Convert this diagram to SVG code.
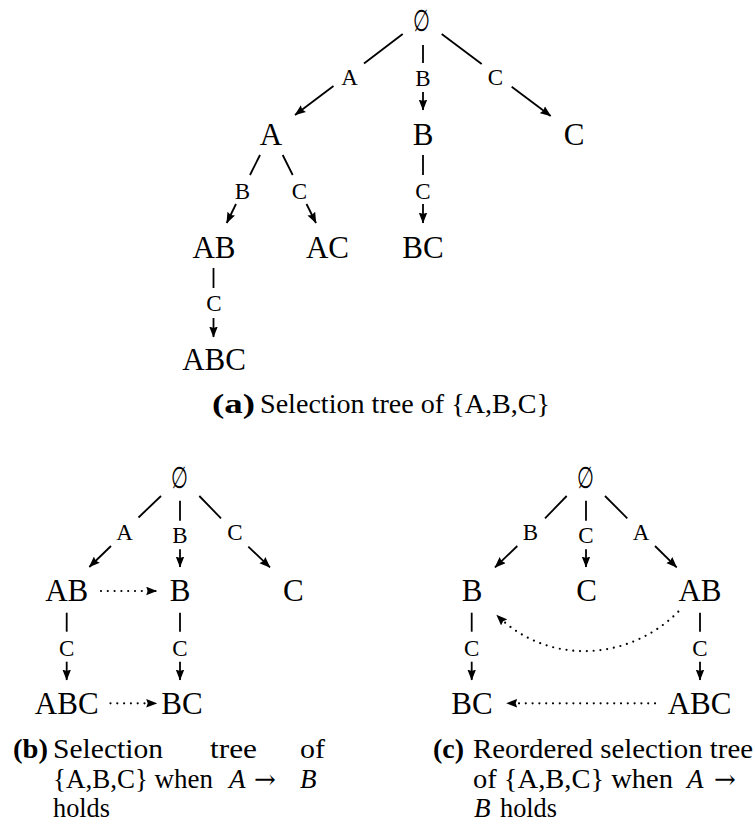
<svg xmlns="http://www.w3.org/2000/svg" width="755" height="828" viewBox="0 0 755 828">
<style>
text{font-family:"Liberation Serif","DejaVu Serif",serif;fill:#000}
.n{font-size:31px;text-anchor:middle}
.l{font-size:23px;text-anchor:middle}
.c{font-size:27px}
.b{font-weight:bold}
.i{font-style:italic}
.ar{font-family:"DejaVu Serif",serif;font-size:26px}
.es{font-family:"DejaVu Serif",serif;font-size:29px;text-anchor:middle}
.e{stroke:#000;stroke-width:1.8;fill:none}
.d{stroke:#000;stroke-width:2.2;fill:none;stroke-dasharray:0 6.8;stroke-linecap:round}
</style>
<defs>
<marker id="ah" viewBox="0 0 11 9" refX="10.5" refY="4.5" markerWidth="11" markerHeight="9" markerUnits="userSpaceOnUse" orient="auto">
<path d="M0,0.2 L11,4.5 L0,8.8 L1.5,4.5 z" fill="#000"/>
</marker>
</defs>

<g id="connectors">
<!-- (a) -->
<line class="e" x1="402.7" y1="34" x2="364" y2="63.5"/>
<line class="e" x1="333.5" y1="86" x2="295" y2="115" marker-end="url(#ah)"/>
<line class="e" x1="423" y1="45" x2="423" y2="63"/>
<line class="e" x1="423" y1="92" x2="423" y2="110" marker-end="url(#ah)"/>
<line class="e" x1="441.7" y1="34" x2="481.7" y2="64"/>
<line class="e" x1="511.7" y1="86.7" x2="550.7" y2="116" marker-end="url(#ah)"/>
<line class="e" x1="260" y1="155" x2="250" y2="175"/>
<line class="e" x1="236" y1="204" x2="226.7" y2="223" marker-end="url(#ah)"/>
<line class="e" x1="282.7" y1="155" x2="292.7" y2="175"/>
<line class="e" x1="306.5" y1="204" x2="316" y2="223" marker-end="url(#ah)"/>
<line class="e" x1="423" y1="155" x2="423" y2="175"/>
<line class="e" x1="423" y1="204" x2="423" y2="223" marker-end="url(#ah)"/>
<line class="e" x1="213.5" y1="268" x2="213.5" y2="288"/>
<line class="e" x1="213.5" y1="318" x2="213.5" y2="337" marker-end="url(#ah)"/>
<!-- (b) -->
<line class="e" x1="161" y1="496" x2="138.5" y2="517.5"/>
<line class="e" x1="111" y1="546" x2="89.3" y2="567" marker-end="url(#ah)"/>
<line class="e" x1="180" y1="500.7" x2="180" y2="520.7"/>
<line class="e" x1="180" y1="549.3" x2="180" y2="567" marker-end="url(#ah)"/>
<line class="e" x1="199.3" y1="496" x2="221" y2="518.3"/>
<line class="e" x1="248.3" y1="546.7" x2="270" y2="567.3" marker-end="url(#ah)"/>
<line class="e" x1="66.7" y1="612.7" x2="66.7" y2="631.7"/>
<line class="e" x1="66.7" y1="661.7" x2="66.7" y2="680" marker-end="url(#ah)"/>
<line class="e" x1="180" y1="612.7" x2="180" y2="631.7"/>
<line class="e" x1="180" y1="661.7" x2="180" y2="680" marker-end="url(#ah)"/>
<line class="d" x1="101" y1="591" x2="156.7" y2="591" marker-end="url(#ah)"/>
<line class="d" x1="110.5" y1="703.3" x2="156.7" y2="703.3" marker-end="url(#ah)"/>
<!-- (c) -->
<line class="e" x1="566.7" y1="496" x2="545" y2="518.3"/>
<line class="e" x1="517.3" y1="546" x2="495" y2="567.3" marker-end="url(#ah)"/>
<line class="e" x1="586" y1="500.7" x2="586" y2="520.7"/>
<line class="e" x1="586" y1="549.3" x2="586" y2="567" marker-end="url(#ah)"/>
<line class="e" x1="605" y1="496" x2="627.3" y2="518.3"/>
<line class="e" x1="655" y1="546" x2="676.7" y2="567.3" marker-end="url(#ah)"/>
<line class="e" x1="471.7" y1="612.7" x2="471.7" y2="631.7"/>
<line class="e" x1="471.7" y1="661.7" x2="471.7" y2="680" marker-end="url(#ah)"/>
<line class="e" x1="700" y1="612.7" x2="700" y2="631.7"/>
<line class="e" x1="700" y1="661.7" x2="700" y2="680" marker-end="url(#ah)"/>
<line class="d" x1="655" y1="703.3" x2="506.7" y2="703.3" marker-end="url(#ah)"/>
<path class="d" d="M678.3,611.7 C628,662 547,665.3 496.7,615" marker-end="url(#ah)"/>
</g>

<g id="edge-labels">
<text class="l" x="349.5" y="85">A</text>
<text class="l" x="423" y="86">B</text>
<text class="l" x="495.5" y="85">C</text>
<text class="l" x="242.5" y="199">B</text>
<text class="l" x="299.5" y="199">C</text>
<text class="l" x="423" y="199">C</text>
<text class="l" x="214" y="311">C</text>
<text class="l" x="124.5" y="540">A</text>
<text class="l" x="180" y="543">B</text>
<text class="l" x="235" y="540">C</text>
<text class="l" x="66.7" y="656">C</text>
<text class="l" x="180" y="656">C</text>
<text class="l" x="530.5" y="540">B</text>
<text class="l" x="586" y="543">C</text>
<text class="l" x="641" y="540">A</text>
<text class="l" x="471.7" y="656">C</text>
<text class="l" x="700" y="656">C</text>
</g>

<g id="a-empty"><text class="es" transform="translate(422,31) scale(0.68,1.05)">∅</text></g>
<g id="a-A"><text class="n" x="271" y="145">A</text></g>
<g id="a-B"><text class="n" x="423" y="145">B</text></g>
<g id="a-C"><text class="n" x="574" y="145">C</text></g>
<g id="a-AB"><text class="n" x="214" y="258">AB</text></g>
<g id="a-AC"><text class="n" x="327.5" y="258">AC</text></g>
<g id="a-BC"><text class="n" x="423" y="258">BC</text></g>
<g id="a-ABC"><text class="n" x="214" y="370">ABC</text></g>

<g id="b-empty"><text class="es" transform="translate(180,488) scale(0.68,1.05)">∅</text></g>
<g id="b-AB"><text class="n" x="66.7" y="601">AB</text></g>
<g id="b-B"><text class="n" x="180" y="601">B</text></g>
<g id="b-C"><text class="n" x="293.3" y="601">C</text></g>
<g id="b-ABC"><text class="n" x="66.7" y="714">ABC</text></g>
<g id="b-BC"><text class="n" x="182" y="714">BC</text></g>

<g id="c-empty"><text class="es" transform="translate(586,488) scale(0.68,1.05)">∅</text></g>
<g id="c-B"><text class="n" x="472" y="601">B</text></g>
<g id="c-C"><text class="n" x="586.5" y="601">C</text></g>
<g id="c-AB"><text class="n" x="700" y="601">AB</text></g>
<g id="c-BC"><text class="n" x="472" y="714">BC</text></g>
<g id="c-ABC"><text class="n" x="699.5" y="714">ABC</text></g>

<g id="captions">
<text class="c b" x="212" y="413" textLength="43" lengthAdjust="spacingAndGlyphs">(a)</text>
<text class="c" x="260" y="413" textLength="290" lengthAdjust="spacingAndGlyphs">Selection tree of {A,B,C}</text>

<text class="c b" x="13" y="758" textLength="35" lengthAdjust="spacingAndGlyphs">(b)</text>
<text class="c" x="53" y="758" textLength="110" lengthAdjust="spacingAndGlyphs">Selection</text>
<text class="c" x="210" y="758" textLength="47" lengthAdjust="spacingAndGlyphs">tree</text>
<text class="c" x="300" y="758" textLength="25" lengthAdjust="spacingAndGlyphs">of</text>
<text class="c" x="53" y="788" textLength="160" lengthAdjust="spacingAndGlyphs">{A,B,C} when</text>
<text class="c i" x="229" y="788">A</text>
<text class="ar" x="254" y="788">→</text>
<text class="c i" x="300" y="788">B</text>
<text class="c" x="53" y="817" textLength="57" lengthAdjust="spacingAndGlyphs">holds</text>

<text class="c b" x="433" y="758" textLength="31" lengthAdjust="spacingAndGlyphs">(c)</text>
<text class="c" x="473" y="758" textLength="280" lengthAdjust="spacingAndGlyphs">Reordered selection tree</text>
<text class="c" x="473" y="788" textLength="200" lengthAdjust="spacingAndGlyphs">of {A,B,C} when</text>
<text class="c i" x="687" y="788">A</text>
<text class="ar" x="714" y="788">→</text>
<text class="c i" x="474" y="817">B</text>
<text class="c" x="500" y="817" textLength="57" lengthAdjust="spacingAndGlyphs">holds</text>
</g>
</svg>
